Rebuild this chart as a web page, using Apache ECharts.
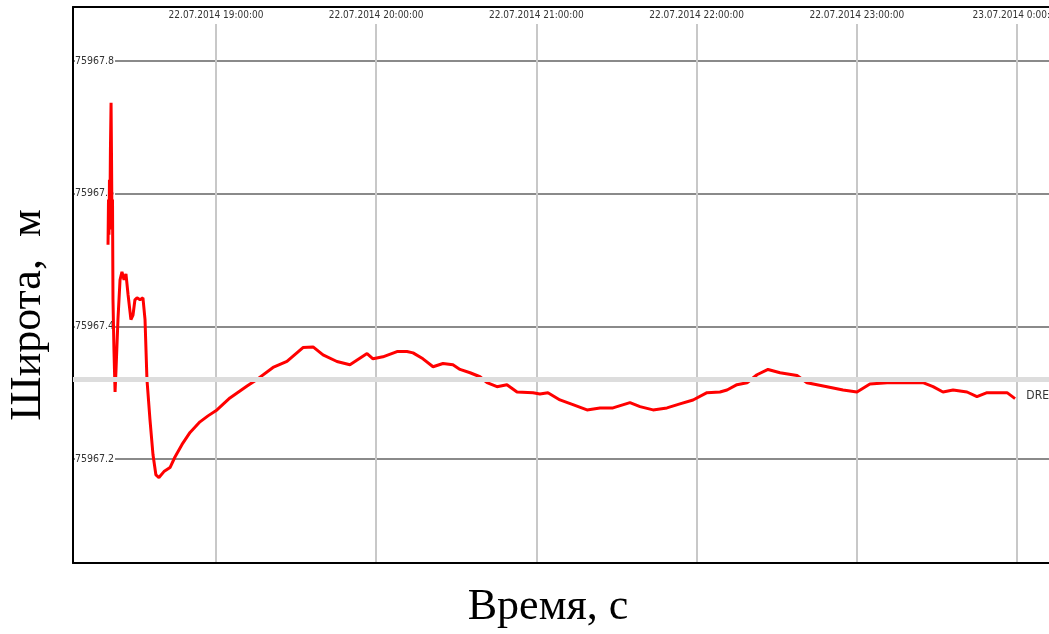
<!DOCTYPE html>
<html>
<head>
<meta charset="utf-8">
<script src="https://cdn.jsdelivr.net/npm/echarts@6/dist/echarts.min.js"></script>
<style>
html,body{margin:0;padding:0;background:#fff;}
#chart{width:1049px;height:634px;}
</style>
</head>
<body>
<div id="chart"></div>
<script>
// Time in hours since 00:00 of 22.07.2014
const hours = [18.326,18.329,18.332,18.335,18.338,18.341,18.345,18.348,18.351,18.354,18.357,18.363,18.370,18.376,18.388,18.401,18.413,18.426,18.438,18.451,18.469,18.482,18.494,18.507,18.526,18.544,18.557,18.569,18.588,18.607,18.625,18.644,18.675,18.713,18.744,18.788,18.838,18.900,18.950,19.006,19.087,19.194,19.256,19.356,19.443,19.543,19.606,19.668,19.755,19.836,19.943,19.980,20.042,20.130,20.192,20.230,20.292,20.355,20.417,20.479,20.523,20.586,20.648,20.692,20.754,20.816,20.879,20.979,21.022,21.072,21.147,21.228,21.316,21.397,21.478,21.584,21.647,21.728,21.815,21.896,21.978,22.065,22.146,22.190,22.252,22.315,22.377,22.446,22.521,22.627,22.689,22.814,22.914,23.001,23.082,23.189,23.413,23.476,23.538,23.601,23.688,23.750,23.813,23.938,23.988];
// Latitude, m
const latitude = [75967.523,75967.591,75967.538,75967.621,75967.576,75967.666,75967.737,75967.651,75967.546,75967.591,75967.440,75967.365,75967.301,75967.335,75967.410,75967.470,75967.482,75967.470,75967.479,75967.448,75967.410,75967.417,75967.440,75967.443,75967.440,75967.443,75967.410,75967.320,75967.259,75967.206,75967.176,75967.172,75967.181,75967.187,75967.203,75967.222,75967.240,75967.256,75967.265,75967.274,75967.292,75967.310,75967.320,75967.338,75967.347,75967.368,75967.369,75967.357,75967.347,75967.342,75967.359,75967.351,75967.354,75967.362,75967.362,75967.360,75967.351,75967.339,75967.344,75967.342,75967.335,75967.330,75967.324,75967.315,75967.309,75967.312,75967.301,75967.300,75967.298,75967.300,75967.289,75967.282,75967.274,75967.277,75967.277,75967.285,75967.279,75967.274,75967.277,75967.283,75967.289,75967.300,75967.301,75967.304,75967.312,75967.315,75967.327,75967.335,75967.330,75967.326,75967.315,75967.309,75967.304,75967.301,75967.313,75967.315,75967.315,75967.309,75967.301,75967.304,75967.301,75967.294,75967.300,75967.300,75967.291];

const refName = 'DRE';
const refValue = 75967.32;

const xTickHours = [19, 20, 21, 22, 23, 24];
const xTickLabels = ['22.07.2014 19:00:00','22.07.2014 20:00:00','22.07.2014 21:00:00','22.07.2014 22:00:00','22.07.2014 23:00:00','23.07.2014 0:00:00'];
const yTickValues = [75967.2, 75967.4, 75967.6, 75967.8];
const yTickLabels = ['75967.2','75967.4','75967.6','75967.8'];

const xTitle = 'Время, с';
const yTitle = 'Широта,  м';

const X_MIN = 18.1074, X_MAX = 24.1998;
const Y_MIN = 75967.0432, Y_MAX = 75967.8814;

const narrow = '"Liberation Sans Narrow","Arial Narrow","DejaVu Sans Condensed",sans-serif';
const serif = '"Liberation Serif","Times New Roman",serif';

function xLabel(v) {
  const i = xTickHours.findIndex(h => Math.abs(h - v) < 1e-6);
  return i >= 0 ? xTickLabels[i] : '';
}
function yLabel(v) {
  const i = yTickValues.findIndex(t => Math.abs(t - v) < 1e-6);
  return i >= 0 ? yTickLabels[i] : '';
}

const chart = echarts.init(document.getElementById('chart'), null, {renderer: 'canvas'});
chart.setOption({
  animation: false,
  backgroundColor: '#fff',
  grid: {left: 73, top: 7, right: 0, bottom: 71, containLabel: false, outerBoundsMode: 'none'},
  xAxis: [{
    type: 'value', position: 'top', min: X_MIN, max: X_MAX,
    minInterval: 1, maxInterval: 1, z: 3,
    axisLine: {show: true, onZero: false, lineStyle: {color: '#000', width: 2}},
    axisTick: {show: false},
    axisLabel: {
      inside: true, margin: 1, showMinLabel: false, showMaxLabel: false,
      formatter: xLabel, color: '#333', fontFamily: narrow, fontSize: 10,
      backgroundColor: '#fff', padding: [2, 0, 4, 0]
    },
    splitLine: {show: true, showMinLine: false, showMaxLine: false, lineStyle: {color: '#c8c8c8', width: 2}}
  }, {
    type: 'value', position: 'bottom', min: X_MIN, max: X_MAX, z: 3,
    axisLine: {show: true, onZero: false, lineStyle: {color: '#000', width: 2}},
    axisTick: {show: false}, axisLabel: {show: false}, splitLine: {show: false}
  }],
  yAxis: {
    type: 'value', min: Y_MIN, max: Y_MAX, minInterval: 0.2, maxInterval: 0.2, z: 3,
    axisLine: {show: true, onZero: false, lineStyle: {color: '#000', width: 2}},
    axisTick: {show: false},
    axisLabel: {
      inside: true, margin: 2, showMinLabel: false, showMaxLabel: false,
      formatter: yLabel, color: '#333', fontFamily: narrow, fontSize: 10.5,
      backgroundColor: '#fff', padding: [0, 1, 0, 0]
    },
    splitLine: {show: true, showMinLine: false, showMaxLine: false, lineStyle: {color: '#8a8a8a', width: 2}}
  },
  series: [{
    type: 'line',
    data: hours.map((h, i) => [h, latitude[i]]),
    showSymbol: false,
    lineStyle: {color: '#ff0000', width: 3},
    itemStyle: {color: '#ff0000'},
    emphasis: {disabled: true},
    markLine: {
      silent: true, symbol: 'none',
      lineStyle: {color: '#dddddd', width: 5, type: 'solid'},
      label: {show: true, position: 'insideEndBottom', formatter: refName, color: '#333', fontFamily: narrow, fontSize: 12, distance: [0, 10]},
      data: [{yAxis: refValue}]
    }
  }],
  graphic: [
    {type: 'text', x: 28, y: 315, rotation: Math.PI / 2,
     style: {text: yTitle, font: '44px ' + serif, fill: '#000', textAlign: 'center', textVerticalAlign: 'middle'}},
    {type: 'text', x: 548, y: 607,
     style: {text: xTitle, font: '44px ' + serif, fill: '#000', textAlign: 'center', textVerticalAlign: 'middle'}}
  ]
});
</script>
</body>
</html>
